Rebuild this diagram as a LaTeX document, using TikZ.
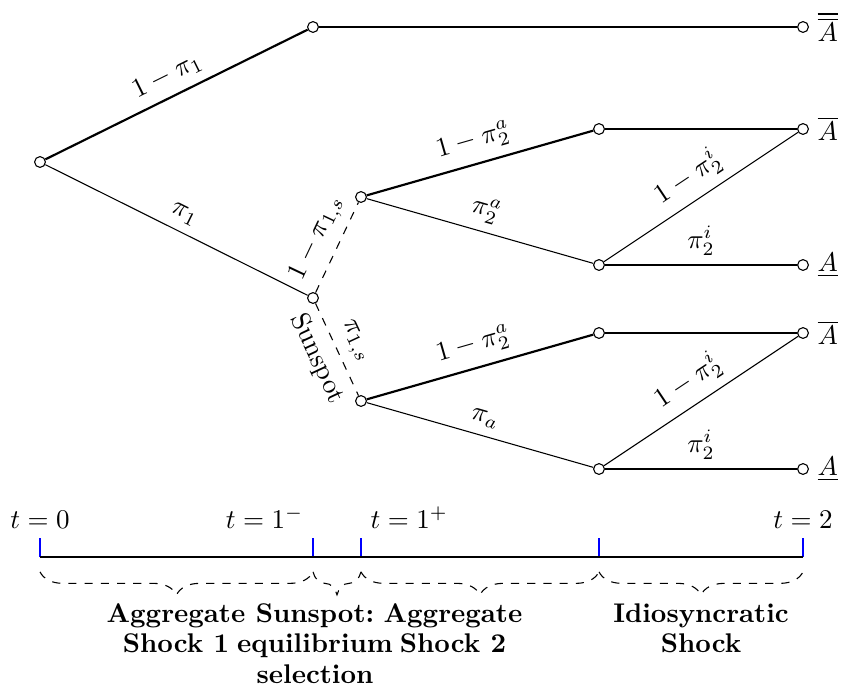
\documentclass[tikz,border=0pt]{standalone}
\usepackage{amsmath,amssymb}
\usepackage{tikz}
\usetikzlibrary{positioning, decorations.pathreplacing}

\begin{document}
\begin{tikzpicture}[
        x=0.37pt, y=-0.37pt,
        state/.style={circle, draw, fill=white, inner sep=0pt, minimum size=4pt},
        branch/.style={draw},
        heavy/.style={draw, thick},
        coin/.style={draw, dashed},
        plab/.style={midway, above, sloped},
        tickmark/.style={draw=blue, semithick},
        period/.style={draw, dashed, decorate, decoration={brace, amplitude=8.5pt, mirror}},
        phase/.style={font=\bfseries\linespread{0.95}\selectfont, align=center, anchor=north, inner sep=1pt},
        outcome/.style={inner sep=3pt},
    ]
    \useasboundingbox (0,0) rectangle (841,692);
    % tree
    \node[state] (root) at (40,162) {};
    \node[state] (up) at (313,27) {};
    \node[state] (upend) at (803,27) {};
    \node[state] (spot) at (313,298) {};
    \node[state] (sU) at (361,197) {};
    \node[state] (sL) at (361,401) {};
    \node[state] (a1) at (599,129) {};
    \node[state] (a2) at (599,265) {};
    \node[state] (b1) at (599,333) {};
    \node[state] (b2) at (599,469) {};
    \node[state] (e1) at (803,129) {};
    \node[state] (e2) at (803,265) {};
    \node[state] (e3) at (803,333) {};
    \node[state] (e4) at (803,469) {};
    \node[outcome, right=0pt of upend] (Aup) {$\overline{\overline{A}}$};
    \node[outcome, right=0pt of e1] (A1) {$\overline{A}$};
    \node[outcome, right=0pt of e2] (A2) {$\underline{A}$};
    \node[outcome, right=0pt of e3] (A3) {$\overline{A}$};
    \node[outcome, right=0pt of e4] (A4) {$\underline{A}$};
    \draw[heavy] (root) -- node[plab] {$1-\pi_1$} (up);
    \draw[heavy] (up) -- (upend);
    \draw[branch] (root) -- node[plab] {$\pi_1$} (spot);
    \draw[coin] (spot) -- node[plab] {$1-\pi_{1,s}$} (sU);
    \draw[coin] (spot) -- node[plab] {$\pi_{1,s}$} node[midway, below, sloped] {Sunspot} (sL);
    \draw[heavy] (sU) -- node[plab] {$1-\pi_2^a$} (a1);
    \draw[branch] (sU) -- node[plab] {$\pi_2^a$} (a2);
    \draw[heavy] (a1) -- (e1);
    \draw[branch] (a2) -- node[plab] {$1-\pi_2^i$} (e1);
    \draw[branch] (a2) -- node[plab] {$\pi_2^i$} (e2);
    \draw[heavy] (sL) -- node[plab] {$1-\pi_2^a$} (b1);
    \draw[branch] (sL) -- node[plab] {$\pi_a$} (b2);
    \draw[heavy] (b1) -- (e3);
    \draw[branch] (b2) -- node[plab] {$1-\pi_2^i$} (e3);
    \draw[branch] (b2) -- node[plab] {$\pi_2^i$} (e4);
    % time line
    \foreach \n/\m/\x in {k0/h0/40, k1/h1/313, k2/h2/361, k3/h3/599, k4/h4/803} {
        \coordinate (\n) at (\x,557);
        \coordinate (\m) at (\x,538);
        \draw[tickmark] (\n) -- (\m);
    }
    \draw[semithick] (k0) -- (k4);
    \node[above] (t0) at (h0) {$t=0$};
    \node[above left] (t1m) at (h1) {$t=1^-$};
    \node[above right] (t1p) at (h2) {$t=1^+$};
    \node[above] (t2) at (h4) {$t=2$};
    \draw[period] ([yshift=-5.5pt]k0) -- ([yshift=-5.5pt]k1);
    \draw[period] ([yshift=-5.5pt]k1) -- ([yshift=-5.5pt]k2);
    \draw[period] ([yshift=-5.5pt]k2) -- ([yshift=-5.5pt]k3);
    \draw[period] ([yshift=-5.5pt]k3) -- ([yshift=-5.5pt]k4);
    \node[phase] (ph1) at (176,600) {Aggregate\\Shock 1};
    \node[phase] (ph2) at (315,600) {Sunspot:\\equilibrium\\selection};
    \node[phase] (ph3) at (453,600) {Aggregate\\Shock 2};
    \node[phase] (ph4) at (701,600) {Idiosyncratic\\Shock};
\end{tikzpicture}
\end{document}
